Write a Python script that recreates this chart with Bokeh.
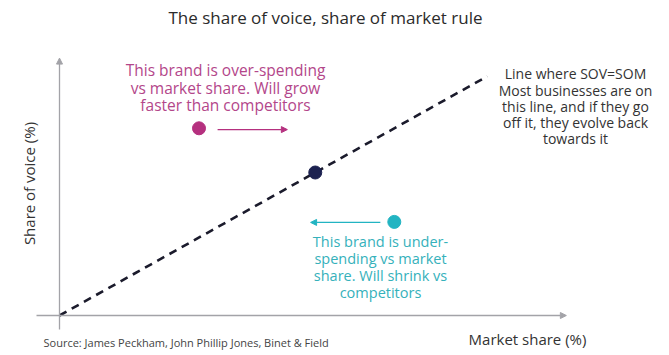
from bokeh.plotting import figure
from bokeh.models import Range1d, Arrow, NormalHead, ColumnDataSource, Label
from bokeh.embed import file_html
from bokeh.resources import INLINE
import math

# ---- data (schematic values, % units) ----
line_som = [0, 92]
line_sov = [0, 92]
brand_names = ["over", "equal", "under"]
brand_som = [30, 55, 72]
brand_sov = [72, 55, 36]
brand_colors = ["#b5307f", "#1c2150", "#22b4c2"]
move_start = [34, 69]
move_end = [49, 54]
move_sov = [71.5, 35.8]
move_colors = ["#b5307f", "#22b4c2"]

title_text = "The share of voice, share of market rule"
over_text = ["This brand is over-spending", "vs market share. Will grow", "faster than competitors"]
line_text = ["Line where SOV=SOM", "Most businesses are on", "this line, and if they go",
             "off it, they evolve back", "towards it"]
under_text = ["This brand is under-", "spending vs market", "share. Will shrink vs", "competitors"]
x_label = "Market share (%)"
y_label = "Share of voice (%)"
source_text = "Source: James Peckham, John Phillip Jones, Binet & Field"

FONT = "Open Sans"
W, H = 669, 355
OFF = 0
SX, SY = 4.65, 2.6   # px per unit
OX, OY = 59, 315      # origin in page px

def dx(X):
    return (X - OX) / SX

def dy(Y):
    return (OY - Y) / SY

p = figure(width=W, height=H, output_backend="svg", toolbar_location=None,
           x_range=Range1d(dx(OFF), dx(OFF + W)), y_range=Range1d(dy(OFF + H), dy(OFF)),
           min_border=0, border_fill_color="white", background_fill_color="white")
p.axis.visible = False
p.grid.visible = False
p.outline_line_color = None

# axes with arrows
axis_col = "#a3a3a8"
p.add_layout(Arrow(x_start=0, y_start=dy(329), x_end=0, y_end=99,
                   line_color=axis_col, line_width=1.3,
                   end=NormalHead(size=6, fill_color=axis_col, line_color=axis_col)))
p.add_layout(Arrow(x_start=dx(36), y_start=0, x_end=109, y_end=0,
                   line_color=axis_col, line_width=1.3,
                   end=NormalHead(size=6, fill_color=axis_col, line_color=axis_col)))

# SOV = SOM dashed line
p.line(line_som, line_sov, line_color="#1b1b2c", line_width=2.6, line_dash="8 6")

# brand dots
src = ColumnDataSource(dict(x=brand_som, y=brand_sov, c=brand_colors))
p.scatter("x", "y", source=src, size=13, fill_color="c", line_color="c")

# movement arrows
for xs, xe, yv, col in zip(move_start, move_end, move_sov, move_colors):
    p.add_layout(Arrow(x_start=xs, y_start=yv, x_end=xe, y_end=yv,
                       line_color=col, line_width=1.2,
                       end=NormalHead(size=6, fill_color=col, line_color=col)))

def lines(texts, cx, ys, color, size="14px", align="center"):
    for t, Y in zip(texts, ys):
        p.add_layout(Label(x=dx(cx), y=dy(Y), text=t, text_font=FONT, text_font_size=size,
                           text_color=color, text_align=align, text_baseline="middle"))

lines([title_text], 325, [17], "#2b2b2b", size="17px")
lines(over_text, 225, [69, 87, 104], "#b3468a", size="15.5px")
lines(line_text, 575, [73, 90, 106, 122, 138], "#333333", size="14px")
lines(under_text, 380, [241, 258, 275, 292], "#35b1bb", size="14.5px")
lines([x_label], 527, [338], "#333333", size="15px")
lines([source_text], 43, [342], "#444444", size="11px", align="left")

p.add_layout(Label(x=dx(28), y=dy(183), text=y_label, text_font=FONT, text_font_size="15px",
                   text_color="#333333", text_align="center", text_baseline="middle",
                   angle=math.pi / 2))

open("out.html", "w").write(file_html(p, INLINE))
